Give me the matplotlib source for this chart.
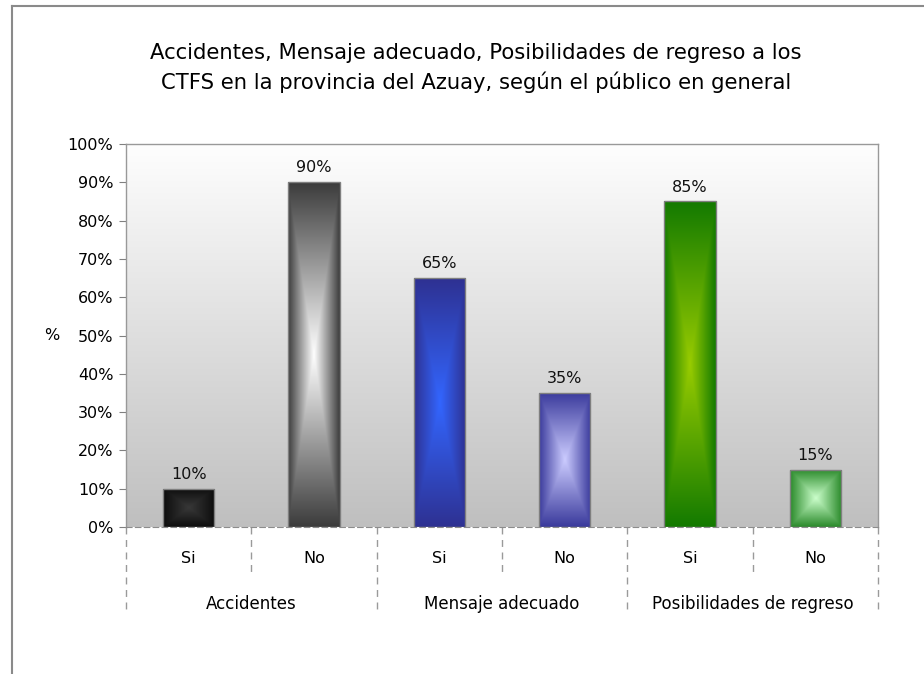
import numpy as np
import matplotlib.pyplot as plt
from matplotlib.colors import to_rgb
from matplotlib.lines import Line2D

plt.rcParams['font.family'] = ['DejaVu Sans']

title = ("Accidentes, Mensaje adecuado, Posibilidades de regreso a los\n"
         "CTFS en la provincia del Azuay, según el público en general")
groups = ["Accidentes", "Mensaje adecuado", "Posibilidades de regreso"]
answers = ["Si", "No", "Si", "No", "Si", "No"]
values = [10, 90, 65, 35, 85, 15]
yticks = [0, 10, 20, 30, 40, 50, 60, 70, 80, 90, 100]

# gradient colours for each bar: (edge, centre)
bar_colors = [("#0d0d0d", "#383838"),
              ("#3c3c3c", "#ffffff"),
              ("#2e3192", "#3366ff"),
              ("#3a3a9c", "#ccccff"),
              ("#137a00", "#99cc00"),
              ("#2a8a2a", "#ccffcc")]


def rect_gradient(edge, centre, n=200):
    u = np.linspace(-1, 1, n)
    U, V = np.meshgrid(u, u)
    t = np.maximum(np.abs(U), np.abs(V))[..., None]
    return (1 - t) * np.array(to_rgb(centre)) + t * np.array(to_rgb(edge))


fig = plt.figure(figsize=(9.24, 6.74), dpi=100)
ax = fig.add_axes([126 / 924, 1 - 527 / 674, 752 / 924, 383 / 674])

# plot area background, white at top to grey at bottom
bg = np.linspace(0, 1, 100)[:, None, None]
bg_img = (1 - bg) * np.array([0.995, 0.995, 0.995]) + bg * np.array([0.75, 0.75, 0.75])
ax.imshow(bg_img, extent=[0, 1, 0, 1], transform=ax.transAxes, aspect='auto',
          zorder=0, interpolation='bilinear')

x = np.arange(len(values))
w = 0.41
bars = ax.bar(x, values, width=w, facecolor='none', edgecolor='#7f7f7f',
              linewidth=1, zorder=3)
for b, (ec, cc) in zip(bars, bar_colors):
    im = ax.imshow(rect_gradient(ec, cc),
                   extent=(b.get_x(), b.get_x() + b.get_width(), 0, b.get_height()),
                   aspect='auto', interpolation='bilinear', zorder=2)
    im.set_clip_path(b)

for xi, v in zip(x, values):
    ax.annotate(f"{v}%", (xi, v), xytext=(0, 5), textcoords='offset points',
                ha='center', va='bottom', fontsize=11.5, color='#111111')

ax.set_xlim(-0.5, len(values) - 0.5)
ax.set_ylim(0, 100)
ax.set_yticks(yticks)
ax.set_yticklabels([f"{t}%" for t in yticks], fontsize=11.5)
ax.tick_params(axis='y', direction='out', length=5, color='#808080', pad=4)
ax.set_xticks([])

for s in ['left', 'top', 'right']:
    ax.spines[s].set_color('#999999')
    ax.spines[s].set_linewidth(1)
ax.spines['bottom'].set_color('#8c8c8c')
ax.spines['bottom'].set_linestyle((0, (5, 3)))

# two-level category axis
tr = ax.get_xaxis_transform()
for i in range(len(values) + 1):
    depth = -0.222 if i % 2 == 0 else -0.125
    ax.plot([i - 0.5, i - 0.5], [0, depth], transform=tr, clip_on=False,
            color='#9a9a9a', linewidth=1, linestyle=(0, (5, 4)))
for xi, a in zip(x, answers):
    ax.text(xi, -0.081, a, transform=tr, ha='center', va='center', fontsize=11.5)
for gi, g in enumerate(groups):
    ax.text(2 * gi + 0.5, -0.201, g, transform=tr, ha='center', va='center', fontsize=12)

fig.text(52 / 924, 1 - 335 / 674, "%", ha='center', va='center', fontsize=11.5)
fig.text(476 / 924, 1 - 68 / 674, title, ha='center', va='center', fontsize=15.2,
         linespacing=1.5)

# chart frame (partially cropped)
fig.add_artist(Line2D([12 / 924, 12 / 924], [0, 1 - 6 / 674], color='#8a8a8a', linewidth=1.5))
fig.add_artist(Line2D([12 / 924, 1], [1 - 6 / 674, 1 - 6 / 674], color='#8a8a8a', linewidth=1.5))

fig.savefig("out.png", dpi=100)
